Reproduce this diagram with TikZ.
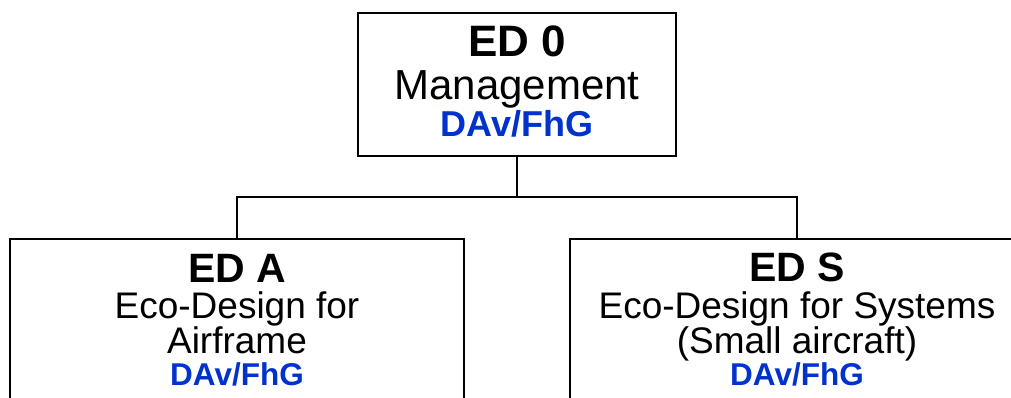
\documentclass[tikz,border=0pt]{standalone}
\usepackage{fontspec}
\setmainfont{Liberation Sans}
\definecolor{orgblue}{RGB}{0,51,204}
\tikzset{
  unit/.style={draw=black, line width=2pt, fill=white, rectangle, inner sep=0pt, anchor=north},
  wire/.style={draw=black, line width=2pt},
  txt/.style={inner sep=0pt, anchor=base},
  headtop/.style={txt, font=\fontsize{44}{48}\selectfont\bfseries},
  bodytop/.style={txt, font=\fontsize{42}{46}\selectfont},
  partnertop/.style={txt, font=\fontsize{36}{40}\selectfont\bfseries, text=orgblue},
  headsub/.style={txt, font=\fontsize{41}{45}\selectfont\bfseries},
  bodysub/.style={txt, font=\fontsize{37}{41}\selectfont},
  partnersub/.style={txt, font=\fontsize{31.5}{35}\selectfont\bfseries, text=orgblue},
}
\begin{document}
\begin{tikzpicture}[x=1pt, y=-1pt]
  \path[use as bounding box, clip] (0,0) rectangle (1011,398);

  % boxes
  \node[unit, minimum width=318pt, minimum height=143pt] (mgmt) at (517,12) {};
  \node[unit, minimum width=454pt, minimum height=200pt] (airframe) at (237,238) {};
  \node[unit, minimum width=454pt, minimum height=200pt] (systems) at (797,238) {};

  % connectors
  \coordinate (split) at (517,197);
  \draw[wire] (mgmt.south) -- (split);
  \draw[wire] (split) -| (airframe.north);
  \draw[wire] (split) -| (systems.north);

  % ED 0
  \node[headtop] (t0a) at (517,57) {ED 0};
  \node[bodytop] (t0b) at (517,100) {Management};
  \node[partnertop] (t0c) at (517,137) {DAv/FhG};

  % ED A
  \node[headsub] (tAa) at (237,282) {ED A};
  \node[bodysub] (tAb) at (237,318) {Eco-Design for};
  \node[bodysub] (tAc) at (237,353) {Airframe};
  \node[partnersub] (tAd) at (237,385) {DAv/FhG};

  % ED S
  \node[headsub] (tSa) at (797,281) {ED S};
  \node[bodysub] (tSb) at (797,318) {Eco-Design for Systems};
  \node[bodysub] (tSc) at (797,353) {(Small aircraft)};
  \node[partnersub] (tSd) at (797,385) {DAv/FhG};
\end{tikzpicture}
\end{document}
